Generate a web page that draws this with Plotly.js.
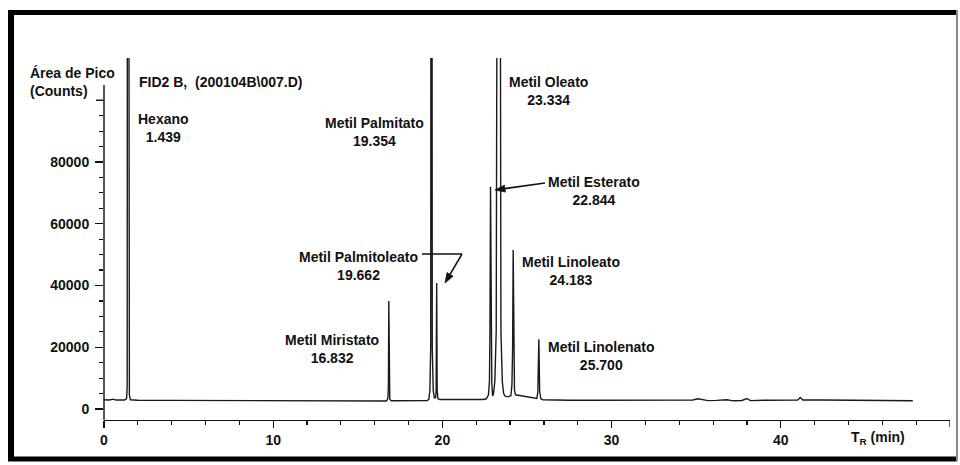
<!DOCTYPE html>
<html>
<head>
<meta charset="utf-8">
<script src="https://cdn.plot.ly/plotly-3.0.1.min.js"></script>
<style>
  html, body { margin: 0; padding: 0; background: #ffffff; }
  #chart { width: 960px; height: 465px; }
</style>
</head>
<body>
<div id="chart"></div>
<script>
// ---- Data ----
// Retention time (min) of the signal samples
const time = [
  0.00, 0.30, 0.55, 0.70, 1.00, 1.20, 1.30, 1.34, 1.37, 1.39, 1.45, 1.46, 1.50, 1.56,
  2.00, 4.00, 6.00, 8.00, 10.00, 12.00, 14.00, 16.00, 16.70,
  16.78, 16.81, 16.832, 16.86, 16.89, 16.98, 17.50, 18.50, 19.10,
  19.20, 19.26, 19.31, 19.33, 19.38, 19.40, 19.46, 19.52, 19.60,
  19.63, 19.662, 19.69, 19.74, 19.85, 20.50, 21.50, 22.40, 22.60,
  22.72, 22.78, 22.81, 22.844, 22.88, 22.92, 22.97, 23.02, 23.10, 23.18,
  23.27, 23.39, 23.46, 23.54, 23.62, 23.72, 23.90, 24.05, 24.11, 24.15,
  24.183, 24.22, 24.26, 24.32, 24.60, 25.00, 25.40, 25.58, 25.64, 25.70,
  25.75, 25.82, 25.95, 26.50, 27.50, 28.50, 30.00, 32.00, 34.00, 34.80,
  35.10, 35.40, 35.70, 36.20, 36.80, 37.20, 37.70, 38.00, 38.20, 39.00,
  40.00, 41.00, 41.15, 41.30, 42.50, 43.80, 44.40, 45.50, 46.50, 47.80
];
// Detector response (counts); peaks that run off the top of the chart are given as 250000
const signal = [
  3000, 2900, 3200, 2900, 2950, 2900, 3200, 3600, 7500, 250000, 250000, 9000, 4500, 3000,
  2850, 2800, 2750, 2700, 2700, 2650, 2600, 2600, 2600,
  3500, 8000, 35000, 8000, 3200, 2650, 2650, 2650, 2700,
  3200, 6000, 20000, 250000, 250000, 20000, 6000, 3600, 3700,
  6000, 40800, 6000, 3300, 3100, 3100, 3050, 3100, 3300,
  4500, 9000, 25000, 72000, 25000, 8000, 4200, 5000, 9000, 25000,
  250000, 250000, 25000, 9000, 5000, 4100, 4000, 4300, 8000, 20000,
  51500, 15000, 6000, 4600, 4300, 3900, 3500, 3400, 5500, 22600,
  5500, 3300, 3000, 2900, 2850, 2850, 2900, 2900, 2850, 2900,
  3300, 3100, 2700, 2800, 3000, 2650, 2750, 3400, 2700, 2850,
  2900, 2900, 3700, 2900, 2900, 2850, 2600, 2650, 2600, 2650
];
// Identified peaks
const peakNames = ["Hexano", "Metil Miristato", "Metil Palmitato", "Metil Palmitoleato",
                   "Metil Esterato", "Metil Oleato", "Metil Linoleato", "Metil Linolenato"];
const peakTimes = ["1.439", "16.832", "19.354", "19.662", "22.844", "23.334", "24.183", "25.700"];
// Axis ticks
const yMajorTicks = [0, 20000, 40000, 60000, 80000];
const yMajorText = ["0", "20000", "40000", "60000", "80000"];
const yMinorTicks = [5000, 10000, 15000, 25000, 30000, 35000, 45000, 50000, 55000,
                     65000, 70000, 75000, 85000, 90000, 95000];
const yUnlabelledTick = 100000;
const xMajorTicks = [0, 10, 20, 30, 40];
const xMajorText = ["0", "10", "20", "30", "40"];
const xMinorTicks = [2, 4, 6, 8, 12, 14, 16, 18, 22, 24, 26, 28, 32, 34, 36, 38, 42, 44, 46, 48];
const xUnlabelledTick = 50;

// ---- Layout helpers (pixel -> paper), plot area spans x 104..950, y 58..420 ----
const PL = 104, PR = 950, PT = 58, PB = 420;
const px = v => (v - PL) / (PR - PL);
const py = v => (PB - v) / (PB - PT);

const FONT = "Liberation Sans, Arial, Helvetica, sans-serif";
const txtFont = { family: FONT, size: 14, color: "#111111", weight: "bold" };

// label centre positions in pixels, one per peak (same order as peakNames)
const labelPos = [
  [163, 128], [332, 349], [374, 132], [358, 266],
  [594, 191], [548, 91], [571, 271], [601, 356]
];

const annotations = peakNames.map((n, i) => ({
  xref: "paper", yref: "paper",
  x: px(labelPos[i][0]), y: py(labelPos[i][1]),
  xanchor: "center", yanchor: "middle",
  text: n + "<br>" + peakTimes[i],
  showarrow: false, align: "center", font: txtFont
}));

annotations.push(
  { xref: "paper", yref: "paper", x: px(28), y: py(82), xanchor: "left", yanchor: "middle",
    text: "Área de Pico<br>(Counts)", align: "left", showarrow: false, font: txtFont },
  { xref: "paper", yref: "paper", x: px(137), y: py(82), xanchor: "left", yanchor: "middle",
    text: "FID2 B,  (200104B\\007.D)", showarrow: false, font: txtFont },
  { xref: "paper", yref: "paper", x: px(878), y: py(438), xanchor: "center", yanchor: "middle",
    text: "T<sub>R</sub> (min)", showarrow: false, font: txtFont }
);

// arrow = leader line + filled head (pixel coordinates converted to paper)
function arrow(tail, tip, len, half) {
  const dx = tail[0] - tip[0], dy = tail[1] - tip[1];
  const L = Math.hypot(dx, dy), ux = dx / L, uy = dy / L;
  const bx = tip[0] + ux * len, by = tip[1] + uy * len;
  const nx = -uy, ny = ux;
  const p = (x, y) => px(x) + "," + py(y);
  return [
    { type: "line", xref: "paper", yref: "paper", x0: px(tail[0]), y0: py(tail[1]),
      x1: px(bx), y1: py(by), line: { color: "#111111", width: 1.6 } },
    { type: "path", xref: "paper", yref: "paper",
      path: "M" + p(tip[0], tip[1]) + " L" + p(bx + nx * half, by + ny * half) +
            " L" + p(bx - nx * half, by - ny * half) + " Z",
      fillcolor: "#111111", line: { color: "#111111", width: 0.8 } }
  ];
}

const shapes = [
  // y axis line (stops short of the top of the plot)
  { type: "line", xref: "paper", yref: "paper", x0: 0, x1: 0, y0: 0, y1: py(85),
    line: { color: "#111111", width: 1.4 } },
  // unlabelled major ticks at the axis ends
  { type: "line", xref: "paper", yref: "y", x0: -8 / (PR - PL), x1: 0,
    y0: yUnlabelledTick, y1: yUnlabelledTick, line: { color: "#111111", width: 1.4 } },
  { type: "line", xref: "x", yref: "paper", x0: xUnlabelledTick, x1: xUnlabelledTick,
    y0: 0, y1: -7 / (PB - PT), line: { color: "#111111", width: 1.4 } },
  // Palmitoleato leader (horizontal part)
  { type: "line", xref: "paper", yref: "paper", x0: px(422), x1: px(462), y0: py(254), y1: py(254),
    line: { color: "#111111", width: 1.6 } },
  ...arrow([462, 254], [445, 283], 10, 3.5),
  ...arrow([545, 183], [495, 190], 10, 3.5),
  // outer frame
  { type: "line", xref: "paper", yref: "paper", x0: px(8), x1: px(957), y0: py(12.5), y1: py(12.5),
    line: { color: "#000000", width: 5 } },
  { type: "line", xref: "paper", yref: "paper", x0: px(11), x1: px(11), y0: py(10), y1: py(461),
    line: { color: "#000000", width: 6 } },
  { type: "line", xref: "paper", yref: "paper", x0: px(8), x1: px(957), y0: py(459), y1: py(459),
    line: { color: "#000000", width: 5 } },
  { type: "line", xref: "paper", yref: "paper", x0: px(957), x1: px(957), y0: py(10), y1: py(461),
    line: { color: "#8a8a8a", width: 2 } }
];

const trace = {
  x: time, y: signal, type: "scatter", mode: "lines",
  line: { color: "#1a1a1a", width: 1.4 },
  hoverinfo: "skip", showlegend: false
};

const layout = {
  width: 960, height: 465,
  margin: { l: PL, r: 960 - PR, t: PT, b: 465 - PB, pad: 0 },
  paper_bgcolor: "#ffffff", plot_bgcolor: "#ffffff",
  showlegend: false,
  font: { family: FONT, size: 14, color: "#111111" },
  xaxis: {
    range: [0, 50], showgrid: false, zeroline: false,
    showline: true, linecolor: "#111111", linewidth: 1.4,
    tickmode: "array", tickvals: xMajorTicks, ticktext: xMajorText,
    ticks: "outside", ticklen: 7, tickwidth: 1.4, tickcolor: "#111111",
    tickfont: { family: FONT, size: 14, color: "#111111", weight: "bold" },
    minor: { tickmode: "array", tickvals: xMinorTicks, ticks: "outside", ticklen: 4,
             tickwidth: 1.2, tickcolor: "#111111", showgrid: false }
  },
  yaxis: {
    range: [-3563, 113684], showgrid: false, zeroline: false, showline: false,
    tickmode: "array", tickvals: yMajorTicks, ticktext: yMajorText,
    ticks: "outside", ticklen: 8, tickwidth: 1.4, tickcolor: "#111111",
    ticklabelstandoff: 3,
    tickfont: { family: FONT, size: 14, color: "#111111", weight: "bold" },
    minor: { tickmode: "array", tickvals: yMinorTicks, ticks: "outside", ticklen: 4,
             tickwidth: 1.2, tickcolor: "#111111", showgrid: false }
  },
  annotations: annotations,
  shapes: shapes
};

Plotly.newPlot("chart", [trace], layout, { staticPlot: true, displayModeBar: false })
  .then(gd => {
    // drop empty placeholder <text> nodes left by the library
    gd.querySelectorAll("text").forEach(t => {
      if (!t.textContent.trim()) t.remove();
    });
  });
</script>
</body>
</html>
